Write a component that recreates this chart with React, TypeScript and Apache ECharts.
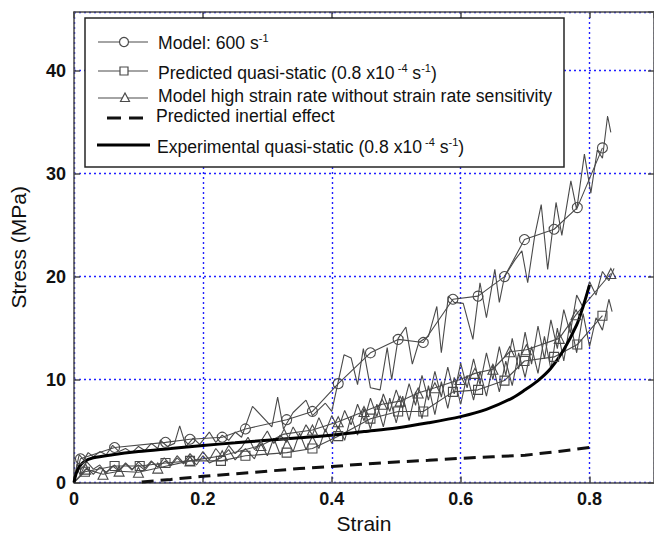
import React, { useEffect, useRef } from "react";
import * as echarts from "echarts";

const FONT = '"Liberation Sans", Arial, Helvetica, sans-serif';

// Axis ticks
const X_MIN = 0;
const X_MAX = 0.9;
const X_STEP = 0.2;
const Y_MIN = 0;
const Y_MAX = 45.7;
const Y_STEP = 10;

// Legend labels
const legendNames = [
  "Model: 600 s{sup|-1}",
  "Predicted quasi-static (0.8 x10{sup| -4} s{sup|-1})",
  "Model high strain rate without strain rate sensitivity",
  "Predicted inertial effect",
  "Experimental quasi-static (0.8 x10{sup| -4} s{sup|-1})",
];

// Model 600 s^-1 : raw oscillating response
const m600Raw: number[][] = [
  [0, 0], [0.004, 1.5], [0.008, 2.7], [0.015, 2.2], [0.022, 2.9], [0.03, 2.5], [0.04, 3.0],
  [0.05, 2.7], [0.06, 3.6], [0.07, 3.0], [0.08, 3.3], [0.09, 2.9], [0.1, 3.5], [0.11, 3.1],
  [0.12, 3.8], [0.13, 3.3], [0.134, 4.1], [0.145, 3.5], [0.156, 3.8], [0.164, 5.5], [0.174, 3.5],
  [0.185, 4.3], [0.195, 3.7], [0.21, 4.9], [0.22, 3.9], [0.23, 4.6], [0.24, 4.1], [0.25, 4.9],
  [0.26, 4.4], [0.277, 7.4], [0.307, 5.4], [0.316, 8.3], [0.325, 5.2], [0.34, 6.8], [0.36, 8.0],
  [0.37, 6.5], [0.39, 7.7], [0.4, 6.9], [0.41, 9.8], [0.419, 12.4], [0.43, 12.1], [0.44, 9.5],
  [0.449, 13.0], [0.46, 9.2], [0.475, 9.0], [0.486, 13.1], [0.493, 10.0], [0.503, 14.0],
  [0.515, 15.1], [0.525, 11.5], [0.535, 13.6], [0.55, 14.2], [0.563, 17.1], [0.57, 12.6],
  [0.581, 18.1], [0.59, 17.5], [0.604, 17.4], [0.619, 13.9], [0.63, 19.4], [0.64, 16.0],
  [0.653, 20.7], [0.66, 17.5], [0.668, 20.0], [0.684, 21.6], [0.695, 22.5], [0.704, 19.4],
  [0.715, 24.0], [0.725, 27.0], [0.735, 20.7], [0.748, 27.2], [0.757, 24.0], [0.771, 29.3],
  [0.78, 26.5], [0.792, 31.9], [0.802, 28.1], [0.812, 32.3], [0.82, 31.5], [0.828, 35.6],
  [0.833, 34.0],
];
// Model 600 s^-1 : marker line
const m600Marked: number[][] = [
  [0, 0], [0.01, 2.3], [0.063, 3.4], [0.142, 3.9], [0.18, 4.2], [0.23, 4.4], [0.266, 5.2],
  [0.33, 6.1], [0.37, 6.9], [0.41, 9.6], [0.46, 12.6], [0.503, 13.9], [0.542, 13.6],
  [0.588, 17.8], [0.627, 18.1], [0.668, 20.0], [0.699, 23.6], [0.745, 24.6], [0.781, 26.7],
  [0.82, 32.5],
];

// Predicted quasi-static : raw
const qsRaw: number[][] = [
  [0, 0], [0.005, 1.3], [0.01, 0.7], [0.02, 1.4], [0.03, 0.8], [0.04, 1.5], [0.05, 1.0],
  [0.063, 1.7], [0.07, 1.2], [0.08, 1.9], [0.09, 1.3], [0.1, 1.7], [0.11, 1.2], [0.12, 2.0],
  [0.13, 1.5], [0.142, 2.1], [0.15, 1.6], [0.16, 2.4], [0.17, 1.8], [0.18, 2.5], [0.19, 1.7],
  [0.2, 2.6], [0.21, 1.9], [0.228, 2.4], [0.24, 3.2], [0.25, 2.2], [0.266, 3.3], [0.28, 2.3],
  [0.29, 3.8], [0.3, 2.6], [0.31, 4.3], [0.32, 2.7], [0.33, 4.2], [0.34, 3.0], [0.35, 4.8],
  [0.36, 3.2], [0.37, 4.5], [0.38, 3.3], [0.39, 5.2], [0.4, 3.8], [0.41, 5.5], [0.42, 4.1],
  [0.43, 6.4], [0.44, 4.6], [0.45, 7.2], [0.46, 5.2], [0.47, 7.6], [0.48, 5.4], [0.49, 8.2],
  [0.5, 5.8], [0.51, 8.4], [0.52, 6.0], [0.53, 8.8], [0.54, 6.2], [0.55, 9.4], [0.56, 6.6],
  [0.57, 9.8], [0.58, 7.2], [0.59, 10.2], [0.6, 7.6], [0.61, 10.4], [0.62, 8.0], [0.63, 10.8],
  [0.64, 8.4], [0.65, 11.4], [0.66, 8.8], [0.67, 11.8], [0.68, 9.4], [0.69, 12.6], [0.7, 10.2],
  [0.71, 13.2], [0.72, 10.6], [0.73, 14.2], [0.74, 11.0], [0.75, 15.0], [0.76, 11.8],
  [0.77, 15.6], [0.78, 12.6], [0.79, 16.4], [0.8, 13.2], [0.81, 16.0], [0.82, 14.8],
  [0.83, 17.8], [0.835, 16.6],
];
const qsMarked: number[][] = [
  [0, 0], [0.017, 1.05], [0.063, 1.6], [0.102, 1.6], [0.142, 1.9], [0.18, 2.1], [0.228, 2.1],
  [0.266, 2.6], [0.33, 2.9], [0.37, 3.3], [0.41, 4.5], [0.46, 6.2], [0.503, 6.9], [0.542, 6.9],
  [0.588, 8.8], [0.627, 9.0], [0.668, 9.9], [0.699, 11.8], [0.745, 12.2], [0.781, 13.4],
  [0.82, 16.2],
];

// Model high strain rate without strain rate sensitivity : raw
const hsRaw: number[][] = [
  [0, 0], [0.005, 1.8], [0.01, 1.2], [0.02, 2.0], [0.03, 1.3], [0.04, 1.7], [0.05, 0.9],
  [0.06, 1.6], [0.07, 1.1], [0.08, 1.8], [0.09, 1.2], [0.1, 2.0], [0.11, 1.4], [0.12, 2.1],
  [0.13, 1.5], [0.14, 2.4], [0.15, 1.7], [0.16, 2.6], [0.17, 1.9], [0.18, 2.8], [0.19, 2.1],
  [0.2, 3.0], [0.21, 2.2], [0.22, 3.3], [0.23, 2.5], [0.24, 3.6], [0.25, 2.8], [0.26, 3.4],
  [0.27, 4.4], [0.28, 3.2], [0.29, 4.0], [0.3, 5.0], [0.31, 3.8], [0.32, 4.6], [0.33, 3.9],
  [0.34, 5.4], [0.35, 4.3], [0.36, 5.6], [0.37, 4.6], [0.38, 6.3], [0.39, 4.9], [0.4, 6.5],
  [0.41, 5.2], [0.42, 7.0], [0.43, 5.6], [0.44, 7.6], [0.45, 6.0], [0.46, 8.2], [0.47, 6.4],
  [0.48, 8.6], [0.49, 6.9], [0.5, 9.0], [0.51, 7.2], [0.52, 9.6], [0.53, 7.5], [0.54, 10.4],
  [0.55, 8.0], [0.56, 10.8], [0.57, 8.3], [0.58, 11.2], [0.59, 8.6], [0.6, 11.6], [0.61, 9.2],
  [0.62, 12.0], [0.63, 9.5], [0.64, 12.6], [0.65, 10.0], [0.66, 13.2], [0.67, 10.4],
  [0.68, 14.0], [0.69, 11.0], [0.7, 14.6], [0.71, 11.5], [0.72, 15.2], [0.73, 12.0],
  [0.74, 15.8], [0.75, 13.0], [0.76, 16.8], [0.77, 14.5], [0.78, 18.2], [0.79, 17.0],
  [0.8, 19.5], [0.81, 18.2], [0.82, 20.5], [0.83, 19.6], [0.838, 20.8],
];
const hsMarked: number[][] = [
  [0, 0], [0.018, 1.3], [0.045, 0.8], [0.07, 1.1], [0.1, 1.0], [0.13, 1.4], [0.18, 2.1],
  [0.23, 2.6], [0.29, 3.6], [0.326, 4.7], [0.37, 5.1], [0.41, 5.9], [0.45, 6.9], [0.478, 7.6],
  [0.506, 7.9], [0.534, 8.7], [0.56, 9.2], [0.599, 10.0], [0.622, 10.6], [0.65, 11.0],
  [0.676, 12.7], [0.702, 12.9], [0.753, 14.0], [0.779, 16.3], [0.833, 20.3],
];

// Predicted inertial effect
const inertial: number[][] = [
  [0.105, 0.05], [0.15, 0.3], [0.2, 0.6], [0.25, 0.85], [0.3, 1.1], [0.35, 1.35], [0.4, 1.55],
  [0.45, 1.8], [0.5, 2.0], [0.55, 2.15], [0.6, 2.35], [0.65, 2.5], [0.7, 2.65], [0.75, 3.0],
  [0.8, 3.4],
];

// Experimental quasi-static
const experimental: number[][] = [
  [0, 0], [0.003, 0.8], [0.008, 1.5], [0.015, 2.0], [0.03, 2.4], [0.06, 2.7], [0.1, 3.0],
  [0.15, 3.3], [0.2, 3.6], [0.25, 3.85], [0.3, 4.1], [0.35, 4.35], [0.4, 4.6], [0.45, 4.95],
  [0.5, 5.3], [0.55, 5.8], [0.6, 6.4], [0.64, 7.1], [0.68, 8.2], [0.7, 9.0], [0.72, 9.9],
  [0.74, 11.1], [0.76, 12.9], [0.78, 15.3], [0.79, 17.1], [0.8, 19.2],
];

const LINE_GRAY = "#4a4a4a";

function markedData(pts: number[][]) {
  return pts.map((p, i) => (i === 0 ? { value: p, symbol: "none" } : { value: p }));
}

export default function App() {
  const ref = useRef<HTMLDivElement>(null);

  useEffect(() => {
    if (!ref.current) return;
    const chart = echarts.init(ref.current, null, { renderer: "svg" });

    const axisLineStyle = { color: "#4a4a4a", width: 1.5 };
    const labelStyle = { color: "#111", fontFamily: FONT, fontSize: 18, fontWeight: "bold" as const };
    const nameStyle = { color: "#111", fontFamily: FONT, fontSize: 21 };

    const richSup = {
      sup: { fontSize: 11, fontFamily: FONT, fill: "#111", verticalAlign: "top", lineHeight: 22 },
    };
    const legendText = (text: string, x: number, y: number) => ({
      type: "text",
      z: 101,
      x,
      y,
      style: {
        text,
        fontFamily: FONT,
        fontSize: 17.6,
        fill: "#111",
        verticalAlign: "middle",
        lineHeight: 22,
        rich: richSup,
      },
    });

    const gStroke = { stroke: LINE_GRAY, lineWidth: 1.2 };

    const option: any = {
      animation: false,
      backgroundColor: "#fff",
      grid: { left: 74, top: 12, width: 584, height: 470.5, containLabel: false },
      xAxis: [
        {
          type: "value",
          min: X_MIN,
          max: X_MAX,
          interval: X_STEP,
          position: "bottom",
          name: "Strain",
          nameLocation: "middle",
          nameGap: 30,
          nameTextStyle: nameStyle,
          axisLine: { show: true, onZero: false, lineStyle: axisLineStyle },
          axisTick: { show: true, inside: true, length: 6, lineStyle: axisLineStyle },
          axisLabel: { ...labelStyle, margin: 7, showMaxLabel: false },
          splitLine: { show: true, lineStyle: { color: "#1f1fff", type: [2, 3], width: 1.4 } },
        },
        {
          type: "value",
          min: X_MIN,
          max: X_MAX,
          interval: X_STEP,
          position: "top",
          axisLine: { show: true, onZero: false, lineStyle: axisLineStyle },
          axisTick: { show: true, inside: true, length: 6, lineStyle: axisLineStyle },
          axisLabel: { show: false },
          splitLine: { show: false },
        },
      ],
      yAxis: [
        {
          type: "value",
          min: Y_MIN,
          max: Y_MAX,
          interval: Y_STEP,
          position: "left",
          name: "Stress (MPa)",
          nameLocation: "middle",
          nameGap: 45,
          nameRotate: 90,
          nameTextStyle: nameStyle,
          axisLine: { show: true, onZero: false, lineStyle: axisLineStyle },
          axisTick: { show: true, inside: true, length: 6, lineStyle: axisLineStyle },
          axisLabel: { ...labelStyle, margin: 8, showMaxLabel: false },
          splitLine: { show: true, lineStyle: { color: "#1f1fff", type: [2, 3], width: 1.4 } },
        },
        {
          type: "value",
          min: Y_MIN,
          max: Y_MAX,
          interval: Y_STEP,
          position: "right",
          axisLine: { show: true, onZero: false, lineStyle: axisLineStyle },
          axisTick: { show: true, inside: true, length: 6, lineStyle: axisLineStyle },
          axisLabel: { show: false },
          splitLine: { show: false },
        },
      ],
      series: [
        {
          type: "line",
          name: "Model 600 raw",
          data: m600Raw,
          showSymbol: false,
          symbol: "none",
          lineStyle: { color: LINE_GRAY, width: 1.1 },
        },
        {
          type: "line",
          name: "Predicted quasi-static raw",
          data: qsRaw,
          showSymbol: false,
          symbol: "none",
          lineStyle: { color: LINE_GRAY, width: 1.1 },
        },
        {
          type: "line",
          name: "High strain rate raw",
          data: hsRaw,
          showSymbol: false,
          symbol: "none",
          lineStyle: { color: LINE_GRAY, width: 1.1 },
        },
        {
          type: "line",
          name: "Model: 600 s-1",
          data: markedData(m600Marked),
          symbol: "circle",
          symbolSize: 10,
          lineStyle: { color: LINE_GRAY, width: 1.1 },
          itemStyle: { color: "rgba(255,255,255,0)", borderColor: LINE_GRAY, borderWidth: 1.1 },
        },
        {
          type: "line",
          name: "Predicted quasi-static",
          data: markedData(qsMarked),
          symbol: "rect",
          symbolSize: 9,
          lineStyle: { color: LINE_GRAY, width: 1.1 },
          itemStyle: { color: "rgba(255,255,255,0)", borderColor: LINE_GRAY, borderWidth: 1.1 },
        },
        {
          type: "line",
          name: "Model high strain rate without strain rate sensitivity",
          data: markedData(hsMarked),
          symbol: "triangle",
          symbolSize: 10,
          lineStyle: { color: LINE_GRAY, width: 1.1 },
          itemStyle: { color: "rgba(255,255,255,0)", borderColor: LINE_GRAY, borderWidth: 1.1 },
        },
        {
          type: "line",
          name: "Predicted inertial effect",
          data: inertial,
          showSymbol: false,
          symbol: "none",
          lineStyle: { color: "#111", width: 3, type: [12, 7] },
        },
        {
          type: "line",
          name: "Experimental quasi-static",
          data: experimental,
          showSymbol: false,
          symbol: "none",
          smooth: 0.3,
          lineStyle: { color: "#000", width: 3 },
        },
      ],
      graphic: [
        {
          type: "rect",
          z: 100,
          shape: { x: 85, y: 18, width: 479, height: 149 },
          style: { fill: "#fff", stroke: "#262626", lineWidth: 1.5 },
        },
        // row 1: circle
        { type: "line", z: 101, shape: { x1: 98, y1: 42, x2: 148, y2: 42 }, style: gStroke },
        { type: "circle", z: 102, shape: { cx: 124, cy: 42, r: 4.5 }, style: { fill: "#fff", ...gStroke } },
        legendText(legendNames[0], 158, 43),
        // row 2: square
        { type: "line", z: 101, shape: { x1: 98, y1: 71, x2: 148, y2: 71 }, style: gStroke },
        { type: "rect", z: 102, shape: { x: 120, y: 67, width: 8, height: 8 }, style: { fill: "#fff", ...gStroke } },
        legendText(legendNames[1], 158, 73),
        // row 3: triangle
        { type: "line", z: 101, shape: { x1: 98, y1: 98, x2: 148, y2: 98 }, style: gStroke },
        {
          type: "polygon",
          z: 102,
          shape: { points: [[125, 93], [120.5, 101.5], [129.5, 101.5]] },
          style: { fill: "#fff", ...gStroke },
        },
        legendText(legendNames[2], 158, 96),
        // row 4: dashed
        {
          type: "line",
          z: 101,
          shape: { x1: 107, y1: 118, x2: 149, y2: 118 },
          style: { stroke: "#111", lineWidth: 3, lineDash: [14, 8] },
        },
        legendText(legendNames[3], 156, 116),
        // row 5: solid thick
        {
          type: "line",
          z: 101,
          shape: { x1: 97, y1: 145, x2: 150, y2: 145 },
          style: { stroke: "#000", lineWidth: 3 },
        },
        legendText(legendNames[4], 157, 147),
      ],
    };

    chart.setOption(option);
    return () => chart.dispose();
  }, []);

  return (
    <div
      ref={ref}
      style={{ position: "absolute", left: 0, top: 0, width: 654, height: 541, background: "#fff" }}
    />
  );
}
